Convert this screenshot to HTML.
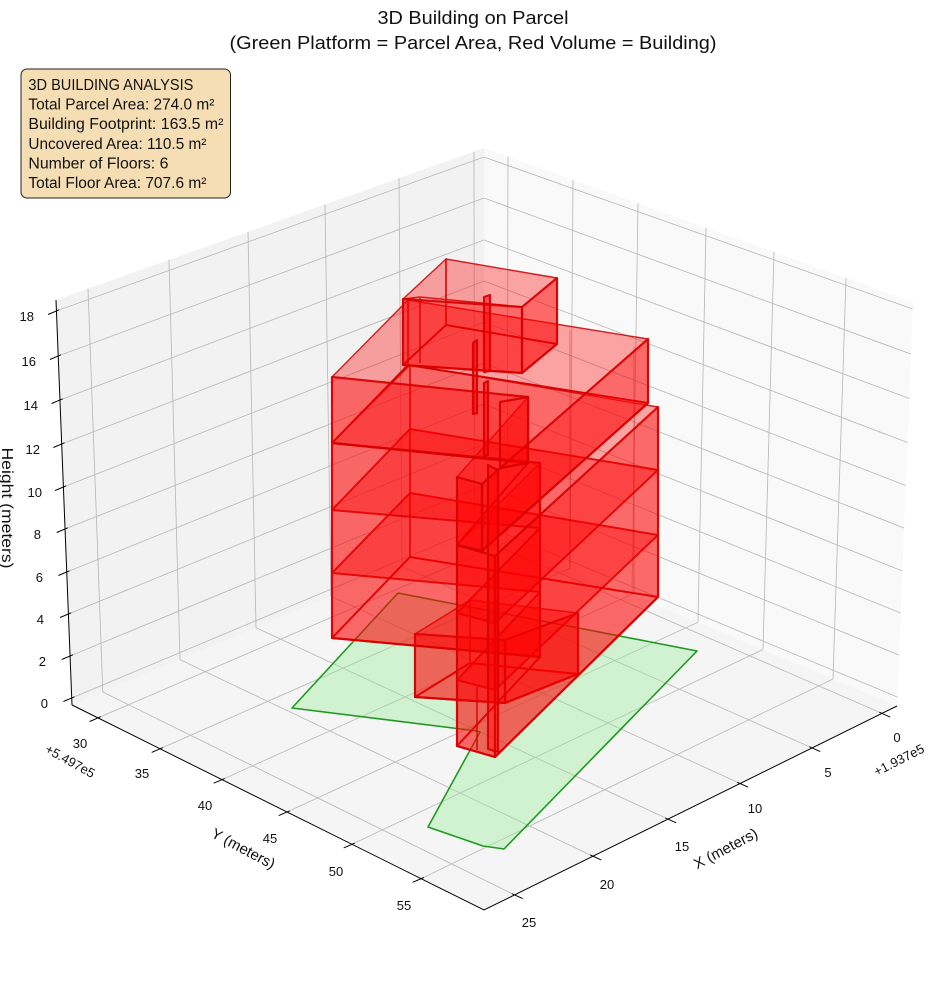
<!DOCTYPE html>
<html>
<head>
<meta charset="utf-8">
<style>
  html,body{margin:0;padding:0;background:#fff;}
  svg{display:block;}
  text{font-family:"Liberation Sans","DejaVu Sans",sans-serif;fill:#111;}
  .g{stroke:#b9b9b9;stroke-width:0.85;fill:none;}
  .ax{stroke:#000;stroke-width:1;fill:none;}
  .tk{stroke:#000;stroke-width:1;}
  .bw{fill:#ff0000;fill-opacity:0.35;stroke:#cc0000;stroke-width:1.4;stroke-opacity:0.85;stroke-linejoin:round;}
  .fw{fill:#ff0000;fill-opacity:0.35;stroke:#d80000;stroke-width:2.2;stroke-opacity:0.92;stroke-linejoin:round;}
  .sl{fill:#ff0000;fill-opacity:0.35;stroke:#d80000;stroke-width:2;stroke-opacity:0.9;stroke-linejoin:round;}
  .tl{font-size:13px;}
</style>
</head>
<body>
<svg width="944" height="992" viewBox="0 0 944 992" xmlns="http://www.w3.org/2000/svg">
<rect x="0" y="0" width="944" height="992" fill="#ffffff"/>

<!-- Panes -->
<polygon points="72,705 56,300 484,148 484,532" fill="#f2f2f2"/>
<polygon points="484,148 913,302 897,706 484,532" fill="#f9f9f9"/>
<polygon points="72,705 484,532 897,706 484,910" fill="#f5f5f5"/>

<!-- Grid lines -->
<g class="g">
  <path d="M88,288.6 L102.8,692 M169,259.9 L180,659.6 M248,231.8 L256,627.7 M325,204.5 L331,596.2 M399,178.2 L402,566.4 M474,151.6 L474.4,536"/>
  <path d="M71.7,698 L484,525 M70.1,656 L484,485 M68.4,614 L484,444 M66.7,572 L484,404 M65,529 L484,363 M63.4,487 L484,322 M61.7,444 L484,281 M59.9,400 L484,240 M58.2,356 L484,198 M56.4,311 L484,157"/>
  <path d="M508,156.6 L507,541.7 M573,179.9 L570,568.2 M638,203.3 L632,594.4 M706,227.7 L698,622.2 M774,252.1 L763,649.5 M846,278 L833,679"/>
  <path d="M484,525 L897.3,697 M484,485 L898.9,655 M484,444 L900.6,613 M484,404 L902.3,571 M484,363 L904,528 M484,322 L905.7,485.5 M484,281 L907.4,442.5 M484,240 L909.2,398.5 M484,198 L910.9,354 M484,157 L912.7,309"/>
  <path d="M102.8,692 L514.5,894.9 M180,659.6 L593,856.2 M256,627.7 L668,819.1 M331,596.2 L740,783.5 M402,566.4 L812,747.9 M474.4,536 L882,713.4"/>
  <path d="M507,541.7 L98,717.9 M570,568.2 L160,748.8 M632,594.4 L222,779.6 M698,622.2 L287,812 M763,649.5 L352,844.3 M833,679 L421,878.7"/>
</g>

<!-- Axis lines -->
<path class="ax" d="M72,705 L56,300 M72,705 L484,910 L897,706"/>

<!-- Z ticks -->
<g class="tk">
  <line x1="74.5" y1="696.8" x2="63.4" y2="701.5"/>
  <line x1="72.9" y1="654.8" x2="61.8" y2="659.5"/>
  <line x1="71.2" y1="612.8" x2="60.1" y2="617.5"/>
  <line x1="69.5" y1="570.8" x2="58.4" y2="575.5"/>
  <line x1="67.8" y1="527.8" x2="56.7" y2="532.5"/>
  <line x1="66.2" y1="485.8" x2="55.1" y2="490.5"/>
  <line x1="64.5" y1="442.8" x2="53.4" y2="447.5"/>
  <line x1="62.7" y1="398.8" x2="51.6" y2="403.5"/>
  <line x1="61.0" y1="354.8" x2="49.9" y2="359.5"/>
  <line x1="59.2" y1="309.8" x2="48.1" y2="314.5"/>
</g>
<!-- Y ticks -->
<g class="tk">
  <line x1="100.8" y1="716.7" x2="89.7" y2="721.5"/>
  <line x1="162.8" y1="747.6" x2="151.7" y2="752.4"/>
  <line x1="224.8" y1="778.4" x2="213.7" y2="783.2"/>
  <line x1="289.8" y1="810.8" x2="278.7" y2="815.6"/>
  <line x1="354.8" y1="843.1" x2="343.7" y2="847.9"/>
  <line x1="423.8" y1="877.5" x2="412.7" y2="882.3"/>
</g>
<!-- X ticks -->
<g class="tk">
  <line x1="879.3" y1="712.2" x2="890.2" y2="717.1"/>
  <line x1="809.3" y1="746.7" x2="820.2" y2="751.6"/>
  <line x1="737.3" y1="782.3" x2="748.2" y2="787.2"/>
  <line x1="665.3" y1="817.9" x2="676.2" y2="822.8"/>
  <line x1="590.3" y1="855" x2="601.2" y2="859.9"/>
  <line x1="511.8" y1="893.7" x2="522.7" y2="898.6"/>
</g>

<!-- Z tick labels -->
<g class="tl" text-anchor="end">
  <text x="48" y="708">0</text>
  <text x="46" y="666">2</text>
  <text x="44" y="624">4</text>
  <text x="43" y="582">6</text>
  <text x="41" y="539">8</text>
  <text x="42" y="497">10</text>
  <text x="40" y="454">12</text>
  <text x="38" y="410">14</text>
  <text x="36" y="366">16</text>
  <text x="34" y="321">18</text>
</g>
<!-- Y tick labels -->
<g class="tl" text-anchor="middle">
  <text x="80" y="748">30</text>
  <text x="142" y="778">35</text>
  <text x="205" y="810">40</text>
  <text x="270" y="843">45</text>
  <text x="336" y="876">50</text>
  <text x="404" y="910">55</text>
</g>
<!-- X tick labels -->
<g class="tl" text-anchor="middle">
  <text x="897" y="742">0</text>
  <text x="828" y="777">5</text>
  <text x="755" y="813">10</text>
  <text x="682" y="851">15</text>
  <text x="607" y="889">20</text>
  <text x="529" y="927">25</text>
</g>
<!-- offsets -->
<text class="tl" text-anchor="middle" transform="translate(68,765) rotate(29)">+5.497e5</text>
<text class="tl" text-anchor="middle" transform="translate(901,764) rotate(-27)">+1.937e5</text>
<!-- axis labels -->
<text text-anchor="middle" font-size="15" transform="translate(241,853) rotate(28)">Y (meters)</text>
<text text-anchor="middle" font-size="15" transform="translate(728,853) rotate(-28)">X (meters)</text>
<text text-anchor="middle" font-size="15.5" textLength="121" lengthAdjust="spacingAndGlyphs" transform="translate(2,508) rotate(90)">Height (meters)</text>

<!-- Parcel -->
<polygon points="292,708 477,731 480,732 428,827 483,846 504,849 697,651 398,593" fill="#90ee90" fill-opacity="0.36" stroke="#1f9a1f" stroke-width="1.6" stroke-linejoin="round"/>

<!-- ===== Building ===== -->
<g class="bw">
  <polygon points="578,674 470,663 470,600 578,613"/>
  <polygon points="470,663 415,697 415,634 470,600"/>
  <polygon points="540,657 457,746 457,545 540,463"/>
  <polygon points="658,597 410,557 410,365 658,407"/>
  <polygon points="410,557 332,638 332,443 410,365"/>
  <polygon points="528,463 457,545 457,477 528,397"/>
  <polygon points="648,403 408,365 408,300 648,339"/>
  <polygon points="408,365 332,443 332,377 408,300"/>
  <polygon points="557,344 446,325 446,259 557,278"/>
  <polygon points="446,325 403,365 403,299 446,259"/>
</g>
<g class="sl">
  <polygon points="415,697 505,703 578,674 470,663"/>
  <polygon points="332,638 540,657 457,746 495,757 658,597 410,557"/>
  <polygon points="332,573 540,592 457,680 495,690 658,535 410,493"/>
  <polygon points="332,510 540,528 457,613 495,623 658,470 410,429"/>
  <polygon points="332,443 528,463 457,545 482,551 648,403 408,365"/>
  <polygon points="403,365 522,373 557,344 446,325"/>
</g>
<g class="fw">
  <polygon points="415,697 505,703 505,640 415,634"/>
  <polygon points="505,703 578,674 578,613 505,640"/>
  <polygon points="332,638 540,657 540,463 332,443"/>
  <polygon points="457,746 495,757 495,556 457,545"/>
  <polygon points="495,757 658,597 658,407 495,556"/>
  <polygon points="332,443 528,463 528,397 332,377"/>
  <polygon points="457,545 482,551 482,484 457,477"/>
  <polygon points="482,551 648,403 648,339 482,484"/>
  <polygon points="403,365 522,373 522,307 403,299"/>
  <polygon points="522,373 557,344 557,278 522,307"/>
</g>
<g class="fw">
  <polygon points="500,402 528,397 528,463 500,468" fill-opacity="0.2"/>
  <polygon points="484,297 490,295 490,371 484,372" fill-opacity="0.5"/>
  <polygon points="473,343 477,340 477,413 473,414" fill-opacity="0.5"/>
  <polygon points="484,383 488,381 488,455 484,456" fill-opacity="0.5"/>
  <polygon points="488,465 498,470 498,752 488,749" fill-opacity="0.4"/>
</g>
<path d="M403,299 L420,297 L522,307 M420,297 L420,363 M477,687 L477,750" stroke="#d80000" stroke-width="1.6" fill="none" stroke-opacity="0.85"/>
<path d="M634,347 L634,592 M570,330 L570,567" stroke="#c00000" stroke-width="1" stroke-opacity="0.35" fill="none"/>

<!-- Title -->
<text x="473" y="24" text-anchor="middle" font-size="18.5" textLength="191" lengthAdjust="spacingAndGlyphs">3D Building on Parcel</text>
<text x="473" y="49" text-anchor="middle" font-size="18.5" textLength="487" lengthAdjust="spacingAndGlyphs">(Green Platform = Parcel Area, Red Volume = Building)</text>

<!-- Info box -->
<rect x="21" y="69" width="209.5" height="129" rx="6" ry="6" fill="#f5deb3" stroke="#222" stroke-width="1"/>
<g font-size="15.5">
  <text x="28.4" y="90" textLength="165" lengthAdjust="spacingAndGlyphs">3D BUILDING ANALYSIS</text>
  <text x="28.4" y="109.6" textLength="186" lengthAdjust="spacingAndGlyphs">Total Parcel Area: 274.0 m²</text>
  <text x="28.4" y="129.2" textLength="195" lengthAdjust="spacingAndGlyphs">Building Footprint: 163.5 m²</text>
  <text x="28.4" y="148.8" textLength="178" lengthAdjust="spacingAndGlyphs">Uncovered Area: 110.5 m²</text>
  <text x="28.4" y="168.4" textLength="140" lengthAdjust="spacingAndGlyphs">Number of Floors: 6</text>
  <text x="28.4" y="188" textLength="178" lengthAdjust="spacingAndGlyphs">Total Floor Area: 707.6 m²</text>
</g>
</svg>
</body>
</html>
